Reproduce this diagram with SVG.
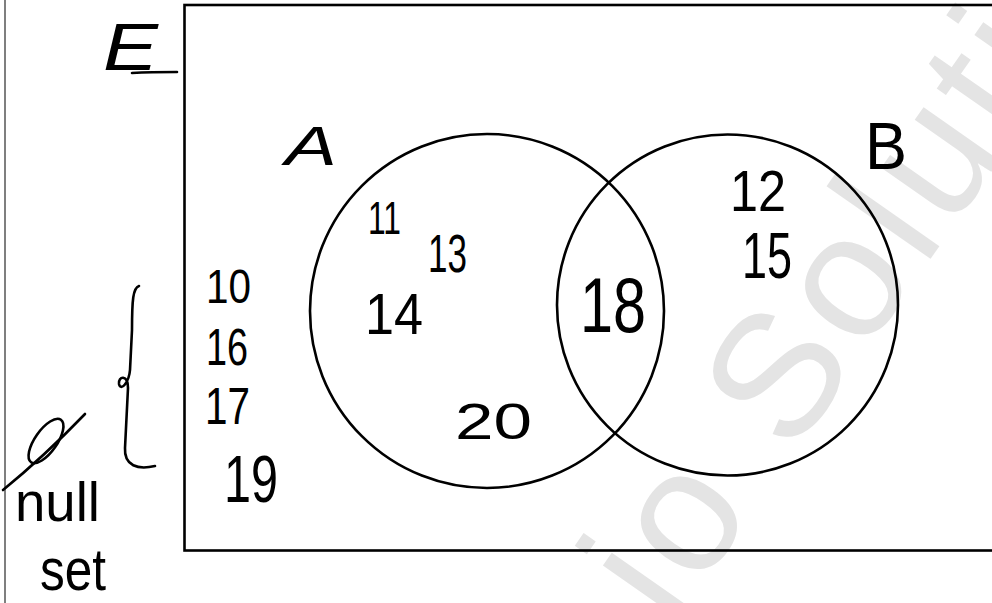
<svg xmlns="http://www.w3.org/2000/svg" width="992" height="603" viewBox="0 0 992 603">
<style>
.ink{fill:none;stroke:#000;stroke-width:2.6;stroke-linecap:round;stroke-linejoin:round}
.hw{font-family:"Liberation Sans","DejaVu Sans",sans-serif;fill:#000}
.wm{font-family:"Liberation Sans",sans-serif;fill:#e4e4e4}
</style>
<rect width="992" height="603" fill="#fff"/>
<g id="watermark">
<text class="wm" font-size="175" letter-spacing="8" transform="translate(672,628) rotate(-55)">io Solutions</text>
</g>
<line x1="5" y1="0" x2="5" y2="603" stroke="#555" stroke-width="1.5"/>
<g id="universe">
<rect x="184.5" y="5" width="820" height="545.5" fill="none" stroke="#000" stroke-width="2.6"/>
<text class="hw" x="103" y="70" font-size="66" font-style="italic" textLength="55" lengthAdjust="spacingAndGlyphs">E</text>
<path class="ink" d="M132 73 C150 72 163 72 177 72"/>
</g>
<g id="setA">
<circle class="ink" cx="487" cy="311" r="177"/>
<text class="hw" x="285" y="165" font-size="56" font-style="italic" textLength="52" lengthAdjust="spacingAndGlyphs">A</text>
<text class="hw" x="368" y="234" font-size="46" textLength="33" lengthAdjust="spacingAndGlyphs">11</text>
<text class="hw" x="428" y="272" font-size="53" textLength="39" lengthAdjust="spacingAndGlyphs">13</text>
<text class="hw" x="365" y="334" font-size="58" textLength="58" lengthAdjust="spacingAndGlyphs">14</text>
<text class="hw" x="455" y="439" font-size="50" textLength="77" lengthAdjust="spacingAndGlyphs">20</text>
</g>
<g id="setB">
<circle class="ink" cx="727.5" cy="305" r="170.5"/>
<text class="hw" x="865" y="169" font-size="66" textLength="42" lengthAdjust="spacingAndGlyphs">B</text>
<text class="hw" x="730" y="211" font-size="58" textLength="56" lengthAdjust="spacingAndGlyphs">12</text>
<text class="hw" x="742" y="278" font-size="64" textLength="50" lengthAdjust="spacingAndGlyphs">15</text>
</g>
<g id="intersection">
<text class="hw" x="580" y="332" font-size="78" textLength="66" lengthAdjust="spacingAndGlyphs">18</text>
</g>
<g id="outside">
<text class="hw" x="206" y="303" font-size="48" textLength="45" lengthAdjust="spacingAndGlyphs">10</text>
<text class="hw" x="206" y="365" font-size="52" textLength="42" lengthAdjust="spacingAndGlyphs">16</text>
<text class="hw" x="205" y="424" font-size="52" textLength="45" lengthAdjust="spacingAndGlyphs">17</text>
<text class="hw" x="224" y="502" font-size="66" textLength="54" lengthAdjust="spacingAndGlyphs">19</text>
</g>
<g id="note">
<path class="ink" d="M139 286 C133 288 132 300 132 330 L130 370 C129 382 121 392 119 384 C118 376 128 374 128 388 L125 448 C124 466 138 470 155 466"/>
<ellipse class="ink" cx="46" cy="441" rx="26" ry="11" transform="rotate(-55 46 441)"/>
<path class="ink" stroke-width="1.6" d="M3 490 C30 468 60 440 85 414"/>
<text class="hw" x="15" y="521" font-size="56" textLength="85" lengthAdjust="spacingAndGlyphs">null</text>
<text class="hw" x="40" y="590" font-size="60" textLength="66" lengthAdjust="spacingAndGlyphs">set</text>
</g>
</svg>
